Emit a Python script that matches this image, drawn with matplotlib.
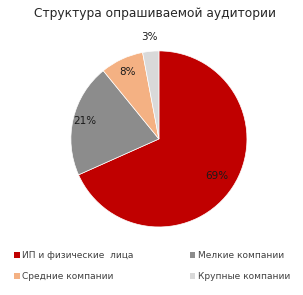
import numpy as np
import matplotlib.pyplot as plt
from matplotlib.patches import Patch

labels = ["ИП и физические  лица", "Мелкие компании", "Средние компании", "Крупные компании"]
values = [69, 21, 8, 3]
colors = ["#C00000", "#8C8C8C", "#F4B183", "#D9D9D9"]
label_radius = [0.78, 0.86, 0.84, 1.16]

fig = plt.figure(figsize=(3.03, 2.95), dpi=100)
ax = fig.add_axes([0.234, 0.2305, 0.581, 0.597])

ax.pie(values, colors=colors, startangle=90, counterclock=False,
       wedgeprops=dict(edgecolor="white", linewidth=0.5))
ax.set_xlim(-1, 1)
ax.set_ylim(-1, 1)
ax.set_aspect("equal")

# percent labels
frac = np.array(values) / np.sum(values)
cum = np.cumsum(frac) - frac / 2
for v, c, r in zip(values, cum, label_radius):
    ang = np.deg2rad(90 - 360 * c)
    ax.text(r * np.cos(ang), r * np.sin(ang), f"{v}%", ha="center", va="center",
            fontsize=7.5, color="#1a1a1a")

fig.text(0.51, 0.955, "Структура опрашиваемой аудитории", ha="center", va="center",
         fontsize=8.8, color="#262626")

# legend is filled column by column, so reorder to get rows: 0 1 / 2 3
order = [0, 2, 1, 3]
handles = [Patch(facecolor=colors[i], edgecolor="none") for i in order]
fig.legend(handles, [labels[i] for i in order], ncol=2, loc="lower left",
           bbox_to_anchor=(0.02, 0.02), frameon=False, fontsize=6.5,
           handlelength=0.6, handleheight=0.6, handletextpad=0.3,
           columnspacing=6.2, labelspacing=1.3, labelcolor="#404040")

plt.savefig("out.png", dpi=100)
plt.close()
